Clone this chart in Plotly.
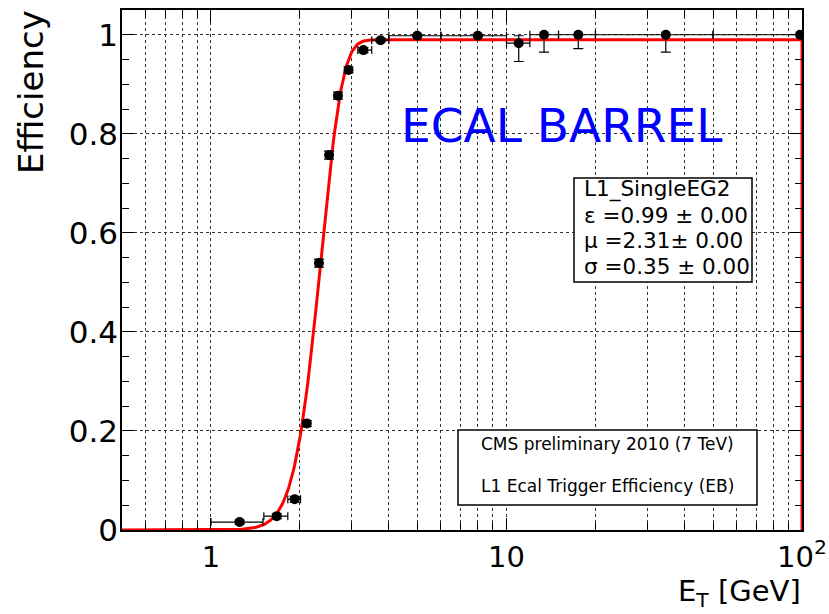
import math
import numpy as np
import plotly.graph_objects as go

# ---- data ----
et = [1.25, 1.67, 1.92, 2.11, 2.32, 2.51, 2.69, 2.92, 3.28, 3.75, 4.99, 8.0, 11.0, 13.4, 17.5, 34.6, 98.5]
eff = [0.016, 0.028, 0.062, 0.215, 0.539, 0.757, 0.877, 0.929, 0.969, 0.989, 0.998, 0.998, 0.983, 1.0, 1.0, 1.0, 1.0]
et_err_lo = [0.25, 0.16, 0.10, 0.05, 0.05, 0.05, 0.05, 0.05, 0.14, 0.25, 0.99, 2.0, 1.0, 1.4, 2.5, 14.6, 48.5]
et_err_hi = [0.25, 0.15, 0.09, 0.05, 0.05, 0.05, 0.05, 0.05, 0.22, 0.25, 1.01, 2.0, 1.0, 1.6, 2.5, 15.4, 1.5]
eff_err_lo = [0.004, 0.005, 0.006, 0.006, 0.008, 0.008, 0.007, 0.006, 0.005, 0.004, 0.002, 0.002, 0.037, 0.035, 0.028, 0.035, 0.0]
eff_err_hi = [0.004, 0.005, 0.006, 0.006, 0.008, 0.008, 0.007, 0.006, 0.005, 0.004, 0.002, 0.002, 0.015, 0.0, 0.0, 0.0, 0.0]

fit_eps, fit_mu, fit_sigma = 0.99, 2.31, 0.35
x_min, x_max = 0.5, 100.0
y_min, y_max = 0.0, 1.05

y_ticks = [0, 0.2, 0.4, 0.6, 0.8, 1.0]
y_ticktext = ["0", "0.2", "0.4", "0.6", "0.8", "1"]
x_major = [1, 10, 100]
x_major_text = ["1", "10", "10<sup>2</sup>"]
x_minor = [0.5, 0.6, 0.7, 0.8, 0.9, 2, 3, 4, 5, 6, 7, 8, 9, 20, 30, 40, 50, 60, 70, 80, 90]

stats_lines = ["L1_SingleEG2", "ε =0.99 ± 0.00", "μ =2.31± 0.00", "σ =0.35 ± 0.00"]
cms_lines = ["CMS preliminary 2010 (7 TeV)", "L1 Ecal Trigger Efficiency (EB)"]

# ---- fit curve ----
xf = list(np.logspace(math.log10(x_min), math.log10(x_max), 600))
yf = [fit_eps / 2 * (1 + math.erf((v - fit_mu) / (math.sqrt(2) * fit_sigma))) for v in xf]
xf.append(x_max)
yf.append(0.0)

FONT = "DejaVu Sans, Liberation Sans, sans-serif"
W, H = 829, 614
L, R, T, B = 122, 27, 10, 84
PW, PH = W - L - R, H - T - B

def px(xp):
    return (xp - L) / PW

def py(yp):
    return (H - B - yp) / PH

fig = go.Figure()
fig.add_trace(go.Scatter(x=xf, y=yf, mode="lines", line=dict(color="#ff0000", width=3),
                         showlegend=False, hoverinfo="skip"))
fig.add_trace(go.Scatter(
    x=et, y=eff, mode="markers",
    marker=dict(color="black", size=10),
    error_x=dict(type="data", symmetric=False, array=et_err_hi, arrayminus=et_err_lo,
                 color="black", thickness=1.2, width=4),
    error_y=dict(type="data", symmetric=False, array=eff_err_hi, arrayminus=eff_err_lo,
                 color="black", thickness=1.2, width=5),
    showlegend=False))
# dummy trace for minor x axis
fig.add_trace(go.Scatter(x=[x_min], y=[0], xaxis="x2", mode="markers",
                         marker=dict(opacity=0), showlegend=False, hoverinfo="skip"))

grid = dict(showgrid=True, gridcolor="#333333", griddash="dot", gridwidth=1)

fig.update_layout(
    width=W, height=H,
    margin=dict(l=L, r=R, t=T, b=B),
    paper_bgcolor="white", plot_bgcolor="white",
    font=dict(family=FONT, color="black"),
    xaxis=dict(type="log", range=[math.log10(x_min), math.log10(x_max)],
               tickvals=x_major, ticktext=x_major_text, ticks="inside", ticklen=12,
               tickcolor="black", showline=True, linecolor="black", linewidth=1.5,
               mirror="ticks", tickfont=dict(size=29, family=FONT), ticklabelstandoff=0,
               automargin=False, zeroline=False, **grid),
    xaxis2=dict(type="log", range=[math.log10(x_min), math.log10(x_max)],
                overlaying="x", anchor="y", side="bottom",
                tickvals=x_minor, ticks="inside", ticklen=7, tickcolor="black",
                showticklabels=False, mirror="ticks", showline=False, zeroline=False, **grid),
    yaxis=dict(range=[y_min, y_max], tickvals=y_ticks, ticktext=y_ticktext,
               ticks="inside", ticklen=12, tickcolor="black",
               showline=True, linecolor="black", linewidth=1.5, mirror="ticks",
               tickfont=dict(size=31, family=FONT), ticklabelstandoff=-4, zeroline=False,
               automargin=False,
               minor=dict(dtick=0.05, ticks="inside", ticklen=7, tickcolor="black", showgrid=False),
               **grid),
)

shapes = [
    dict(type="rect", xref="paper", yref="paper", x0=px(574), x1=px(752), y0=py(282), y1=py(178),
         line=dict(color="black", width=1.5), fillcolor="white", layer="above"),
    dict(type="rect", xref="paper", yref="paper", x0=px(458), x1=px(757), y0=py(505), y1=py(430),
         line=dict(color="black", width=1.5), fillcolor="white", layer="above"),
]
fig.update_layout(shapes=shapes)

ann = []
ann.append(dict(text="Efficiency", xref="paper", yref="paper", x=px(31), y=py(8),
                xanchor="center", yanchor="top", textangle=-90, showarrow=False,
                font=dict(size=34, family=FONT)))
ann.append(dict(text="E<sub>T</sub> [GeV]", xref="paper", yref="paper", x=px(803), y=py(614),
                xanchor="right", yanchor="bottom", showarrow=False,
                font=dict(size=29, family=FONT)))
ann.append(dict(text="ECAL BARREL", xref="paper", yref="paper", x=px(561), y=py(126),
                xanchor="center", yanchor="middle", showarrow=False,
                font=dict(size=47, family=FONT, color="#0000ff")))
for t, yy in zip(stats_lines, [189, 215, 240, 266]):
    ann.append(dict(text=t, xref="paper", yref="paper", x=px(582), y=py(yy),
                    xanchor="left", yanchor="middle", showarrow=False,
                    font=dict(size=21.5, family=FONT)))
for t, yy in zip(cms_lines, [444, 486]):
    ann.append(dict(text=t, xref="paper", yref="paper", x=px(607), y=py(yy),
                    xanchor="center", yanchor="middle", showarrow=False,
                    font=dict(size=17, family=FONT)))
fig.update_layout(annotations=ann)

fig.write_html("out.html")
